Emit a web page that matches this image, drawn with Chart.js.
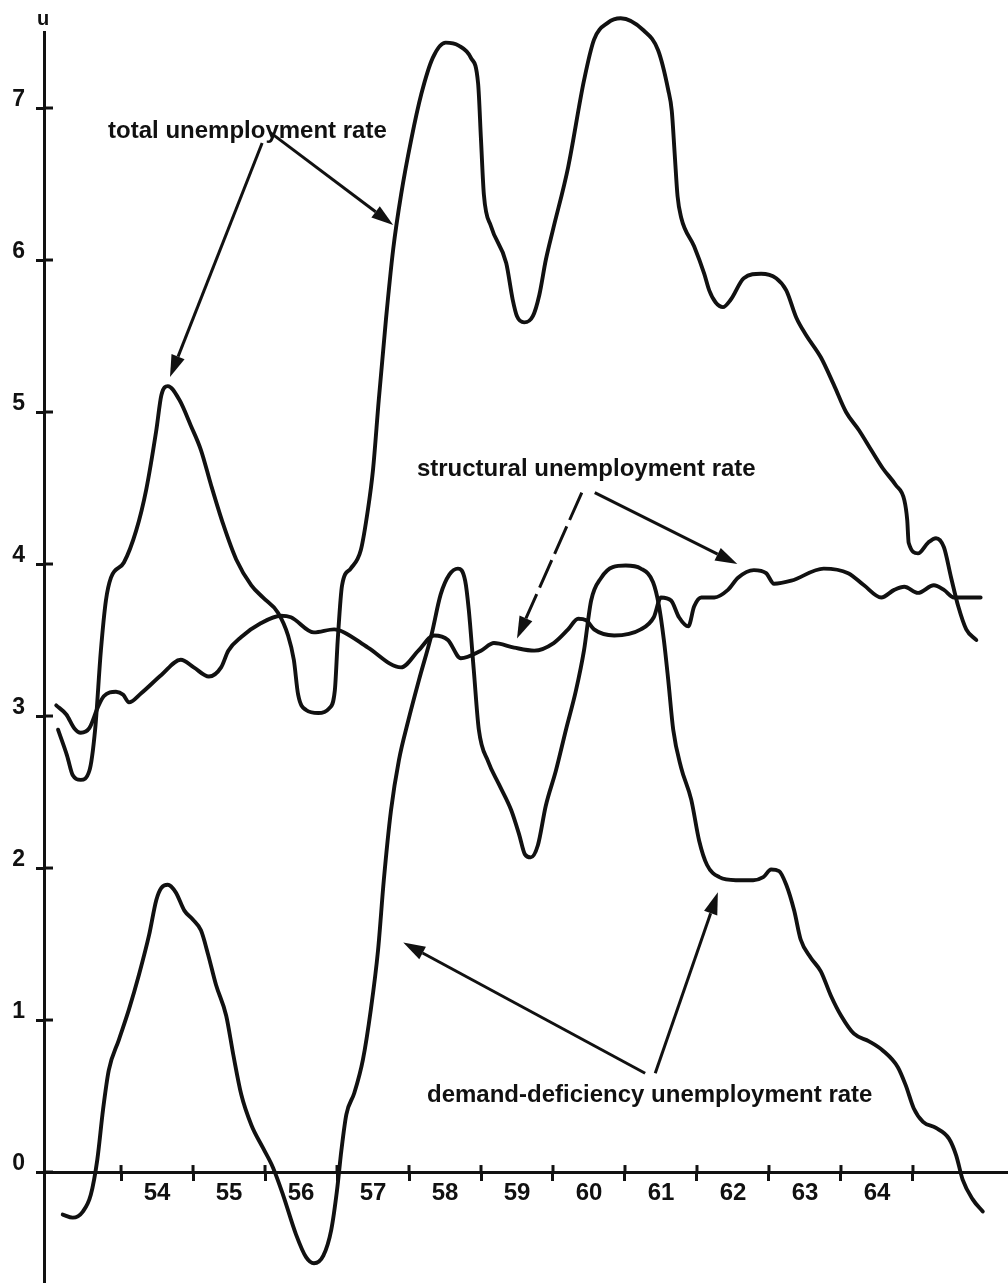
<!DOCTYPE html>
<html>
<head>
<meta charset="utf-8">
<script src="https://cdn.jsdelivr.net/npm/chart.js@4.4.1/dist/chart.umd.min.js"></script>
<style>
  html, body { margin: 0; padding: 0; background: #ffffff; }
  #wrap { width: 1008px; height: 1283px; }
</style>
</head>
<body>
<div id="wrap"><canvas id="c" width="1008" height="1283"></canvas></div>
<script>
// ---- data (years as decimal, rates in percent) ----
const totalYears = [53.125,53.25,53.33,53.44,53.56,53.64,53.72,53.79,53.86,54.04,54.21,54.35,54.49,54.56,54.65,54.81,54.97,55.11,55.25,55.42,55.6,55.81,55.97,56.18,56.32,56.4,56.46,56.57,56.74,56.89,56.97,57.01,57.07,57.19,57.33,57.43,57.5,57.58,57.68,57.78,57.89,58.03,58.17,58.33,58.51,58.69,58.86,58.96,59.0,59.04,59.14,59.35,59.44,59.5,59.6,59.72,59.81,59.9,60.0,60.21,60.43,60.57,60.76,60.94,61.26,61.46,61.6,61.65,61.69,61.73,61.78,61.96,62.1,62.17,62.26,62.36,62.47,62.65,62.89,63.1,63.24,63.38,63.51,63.72,63.9,64.07,64.25,64.42,64.58,64.76,64.88,64.92,64.94,65.07,65.21,65.32,65.43,65.53,65.63,65.74,65.88];
const totalRate  = [2.91,2.74,2.61,2.58,2.64,2.91,3.43,3.76,3.91,4.01,4.22,4.49,4.88,5.11,5.17,5.08,4.91,4.75,4.52,4.26,4.03,3.86,3.78,3.68,3.53,3.37,3.14,3.04,3.02,3.05,3.17,3.5,3.86,3.97,4.09,4.36,4.62,5.08,5.61,6.07,6.43,6.79,7.09,7.33,7.43,7.41,7.33,7.16,6.79,6.43,6.22,5.98,5.74,5.63,5.59,5.63,5.77,6.0,6.2,6.61,7.18,7.45,7.56,7.59,7.51,7.38,7.12,6.98,6.7,6.42,6.28,6.09,5.91,5.8,5.72,5.69,5.74,5.88,5.91,5.88,5.8,5.62,5.51,5.36,5.18,5.0,4.88,4.75,4.63,4.52,4.42,4.29,4.14,4.07,4.14,4.17,4.11,3.91,3.72,3.57,3.5];

const structYears = [53.1,53.24,53.35,53.44,53.56,53.68,53.76,53.93,54.03,54.11,54.28,54.56,54.83,55.01,55.22,55.39,55.49,55.67,55.94,56.22,56.36,56.68,56.96,57.1,57.43,57.89,58.13,58.35,58.54,58.72,59.0,59.18,59.46,59.74,60.01,60.21,60.35,60.46,60.57,60.85,61.22,61.4,61.5,61.64,61.75,61.88,61.96,62.06,62.24,62.43,62.57,62.79,62.96,63.07,63.31,63.76,64.1,64.32,64.56,64.74,64.88,65.07,65.29,65.43,65.57,65.94];
const structRate  = [3.07,3.01,2.92,2.89,2.92,3.06,3.13,3.16,3.14,3.09,3.15,3.27,3.37,3.32,3.26,3.32,3.43,3.52,3.61,3.66,3.65,3.55,3.57,3.55,3.45,3.32,3.43,3.53,3.5,3.38,3.43,3.48,3.45,3.43,3.48,3.57,3.64,3.63,3.57,3.53,3.57,3.65,3.78,3.76,3.65,3.59,3.72,3.78,3.78,3.83,3.91,3.96,3.94,3.87,3.89,3.97,3.94,3.86,3.78,3.83,3.85,3.81,3.86,3.83,3.78,3.78];

const demandYears = [53.19,53.33,53.47,53.58,53.67,53.75,53.83,53.97,54.11,54.25,54.39,54.49,54.56,54.65,54.76,54.88,55.0,55.11,55.21,55.32,55.46,55.56,55.67,55.81,55.97,56.11,56.25,56.43,56.57,56.68,56.81,56.92,57.0,57.06,57.13,57.24,57.36,57.47,57.57,57.65,57.75,57.86,57.99,58.14,58.31,58.44,58.56,58.68,58.78,58.83,58.9,58.97,59.1,59.25,59.42,59.53,59.61,59.69,59.79,59.9,60.04,60.18,60.32,60.43,60.53,60.67,60.83,61.01,61.22,61.39,61.47,61.54,61.6,61.67,61.78,61.92,62.03,62.14,62.31,62.54,62.78,62.92,63.03,63.14,63.24,63.35,63.44,63.58,63.72,63.86,64.0,64.18,64.39,64.58,64.79,64.9,65.01,65.14,65.32,65.5,65.6,65.69,65.83,65.97];
const demandRate  = [-0.28,-0.3,-0.26,-0.15,0.08,0.41,0.67,0.87,1.07,1.3,1.56,1.79,1.87,1.89,1.84,1.72,1.66,1.59,1.43,1.23,1.03,0.77,0.51,0.31,0.16,0.03,-0.15,-0.41,-0.56,-0.6,-0.55,-0.38,-0.12,0.14,0.38,0.52,0.74,1.07,1.46,1.92,2.38,2.71,2.97,3.24,3.53,3.8,3.93,3.97,3.89,3.7,3.3,2.91,2.7,2.55,2.38,2.22,2.09,2.07,2.15,2.41,2.64,2.91,3.17,3.43,3.76,3.91,3.98,3.99,3.97,3.88,3.73,3.5,3.24,2.91,2.66,2.45,2.18,2.02,1.94,1.92,1.92,1.94,1.99,1.98,1.89,1.72,1.53,1.41,1.32,1.16,1.03,0.91,0.86,0.8,0.69,0.57,0.42,0.33,0.29,0.22,0.11,-0.05,-0.18,-0.26];

const tickYears = [54,55,56,57,58,59,60,61,62,63,64,65];
const yearLabels = ['54','55','56','57','58','59','60','61','62','63','64'];
const rateTicks = [0,1,2,3,4,5,6,7];
const axisTitle = 'u';

// annotation labels and arrows (in data units; 5th item = dashed)
const annotations = [
  { text: 'total unemployment rate', x: 53.82, y: 6.80,
    arrows: [[55.96, 6.77, 54.68, 5.23, false], [56.07, 6.84, 57.78, 6.23, false]] },
  { text: 'structural unemployment rate', x: 58.11, y: 4.58,
    arrows: [[60.40, 4.47, 59.50, 3.51, true], [60.58, 4.47, 62.56, 4.00, false]] },
  { text: 'demand-deficiency unemployment rate', x: 58.25, y: 0.46,
    arrows: [[61.28, 0.65, 57.92, 1.51, false], [61.42, 0.65, 62.29, 1.84, false]] }
];

const INK = '#111111';
const FONT = '"Liberation Sans", Arial, Helvetica, sans-serif';

function pts(xs, ys) { return xs.map((x, i) => ({ x: x, y: ys[i] })); }

function lineSet(label, xs, ys) {
  return {
    label: label,
    data: pts(xs, ys),
    borderColor: INK,
    borderWidth: 3.9,
    pointRadius: 0,
    fill: false,
    cubicInterpolationMode: 'monotone',
    clip: false,
    borderJoinStyle: 'round',
    borderCapStyle: 'round'
  };
}

const decor = {
  id: 'decor',
  afterDraw(chart) {
    const ctx = chart.ctx;
    const xs = chart.scales.x, ys = chart.scales.y;
    const x0 = ys.right;            // y-axis line position
    const y0 = ys.getPixelForValue(0); // x-axis line position
    ctx.save();
    ctx.strokeStyle = INK;
    ctx.lineWidth = 3;
    // inner halves of the crossing tick marks
    rateTicks.forEach(v => {
      const p = ys.getPixelForValue(v);
      ctx.beginPath(); ctx.moveTo(x0, p); ctx.lineTo(x0 + 9, p); ctx.stroke();
    });
    tickYears.forEach(v => {
      const p = xs.getPixelForValue(v);
      ctx.beginPath(); ctx.moveTo(p, y0); ctx.lineTo(p, y0 - 7); ctx.stroke();
    });
    // axis title
    ctx.fillStyle = INK;
    ctx.font = 'bold 20px ' + FONT;
    ctx.textAlign = 'center';
    ctx.textBaseline = 'alphabetic';
    ctx.fillText(axisTitle, x0 - 1, ys.top - 7);
    // annotations
    ctx.font = 'bold 24px ' + FONT;
    ctx.textAlign = 'left';
    annotations.forEach(a => {
      ctx.fillText(a.text, xs.getPixelForValue(a.x), ys.getPixelForValue(a.y));
      a.arrows.forEach(ar => {
        const sx = xs.getPixelForValue(ar[0]), sy = ys.getPixelForValue(ar[1]);
        const ex = xs.getPixelForValue(ar[2]), ey = ys.getPixelForValue(ar[3]);
        const ang = Math.atan2(ey - sy, ex - sx);
        const L = 22, W = 7;
        const bx = ex - L * Math.cos(ang), by = ey - L * Math.sin(ang);
        ctx.lineWidth = 3;
        ctx.setLineDash(ar[4] ? [30, 7] : []);
        ctx.beginPath(); ctx.moveTo(sx, sy); ctx.lineTo(bx, by); ctx.stroke();
        ctx.setLineDash([]);
        ctx.beginPath();
        ctx.moveTo(ex, ey);
        ctx.lineTo(bx + W * Math.sin(ang), by - W * Math.cos(ang));
        ctx.lineTo(bx - W * Math.sin(ang), by + W * Math.cos(ang));
        ctx.closePath(); ctx.fill();
      });
    });
    ctx.restore();
  }
};

new Chart(document.getElementById('c'), {
  type: 'line',
  data: {
    datasets: [
      lineSet('total unemployment rate', totalYears, totalRate),
      lineSet('structural unemployment rate', structYears, structRate),
      lineSet('demand-deficiency unemployment rate', demandYears, demandRate)
    ]
  },
  options: {
    responsive: false,
    devicePixelRatio: 1,
    animation: false,
    events: [],
    layout: { padding: { top: 32, left: 0, right: 0, bottom: 0 } },
    plugins: { legend: { display: false }, tooltip: { enabled: false }, title: { display: false } },
    scales: {
      x: {
        type: 'linear',
        min: 52.93,
        max: 66.32,
        position: { y: 0 },
        afterFit: s => { s.height = 0; s.paddingLeft = 0; s.paddingRight = 0; },
        afterBuildTicks: s => { s.ticks = tickYears.map(v => ({ value: v })); },
        grid: { drawOnChartArea: false, drawTicks: true, tickLength: 7, tickWidth: 3, tickColor: INK, color: INK },
        border: { display: true, color: INK, width: 3 },
        ticks: {
          color: INK,
          font: { family: FONT, size: 24, weight: 'bold' },
          padding: 0,
          labelOffset: 36,
          maxRotation: 0,
          autoSkip: false,
          callback: v => { const i = tickYears.indexOf(v); return i >= 0 && i < yearLabels.length ? yearLabels[i] : ''; }
        }
      },
      y: {
        type: 'linear',
        min: -0.73,
        max: 7.5,
        position: 'left',
        afterFit: s => { s.width = 44; s.paddingTop = 0; s.paddingBottom = 0; },
        afterBuildTicks: s => { s.ticks = rateTicks.map(v => ({ value: v })); },
        grid: { drawOnChartArea: false, drawTicks: true, tickLength: 8, tickWidth: 3, tickColor: INK, color: INK },
        border: { display: true, color: INK, width: 3 },
        ticks: {
          color: INK,
          font: { family: FONT, size: 23, weight: 'bold' },
          padding: 11,
          labelOffset: -8,
          callback: v => String(v)
        }
      }
    }
  },
  plugins: [decor]
});
</script>
</body>
</html>
